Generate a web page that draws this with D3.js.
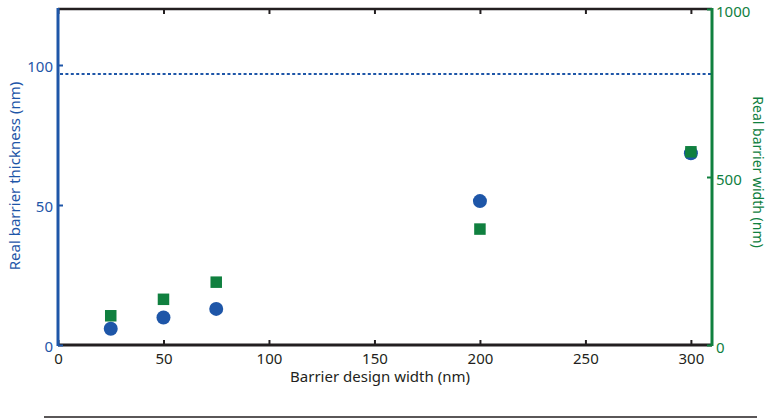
<!DOCTYPE html>
<html><head><meta charset="utf-8">
<script src="https://cdn.jsdelivr.net/npm/d3@7"></script>
<style>body{margin:0;background:#fff}svg{display:block;font-family:"Noto Sans",sans-serif}</style>
</head><body><svg id="c" width="770" height="420"></svg>
<script>
const designWidth = [25, 50, 75, 200, 300];
const thickness = [5.8, 9.8, 12.9, 51.4, 68.5];
const realWidth = [87, 136, 187, 345, 575];
const refThickness = 96.8;
const xTicks = [0, 50, 100, 150, 200, 250, 300];
const yLeftTicks = [0, 50, 100];
const yRightTicks = [0, 500, 1000];

const BLUE = "#1e56a8", GREEN = "#10803f";
const svg = d3.select("#c");
const L = 58, R = 712, T = 9, B = 345;
const x = d3.scaleLinear().domain([0, 310]).range([L, R]);
const yL = d3.scaleLinear().domain([0, 120]).range([B, T]);
const yR = d3.scaleLinear().domain([0, 1000]).range([B, T]);
const fmt = d3.format("d");

// dotted reference line
svg.append("line").attr("x1", L + 2).attr("x2", R - 1)
  .attr("y1", yL(refThickness)).attr("y2", yL(refThickness))
  .attr("stroke", BLUE).attr("stroke-width", 2).attr("stroke-dasharray", "3,2.4");

// bottom axis
const gx = svg.append("g").attr("transform", `translate(0,${B})`)
  .call(d3.axisBottom(x).tickValues(xTicks).tickFormat(fmt).tickSize(-5).tickPadding(8).tickSizeOuter(0));
gx.select(".domain").remove();
gx.append("line").attr("x1", L).attr("x2", R).attr("stroke", "#231f20").attr("stroke-width", 3);
gx.selectAll(".tick line").attr("stroke", "#231f20").attr("stroke-width", 2);
gx.selectAll(".tick text").attr("fill", "#231f20").attr("font-size", 15).attr("font-family", "Noto Sans");

// top axis
const gt = svg.append("g").attr("transform", `translate(0,${T})`)
  .call(d3.axisTop(x).tickValues(xTicks).tickSize(-5).tickFormat("").tickSizeOuter(0));
gt.select(".domain").remove();
gt.append("line").attr("x1", L).attr("x2", R).attr("stroke", "#231f20").attr("stroke-width", 2.5);
gt.selectAll(".tick line").attr("stroke", "#231f20").attr("stroke-width", 2);

// left axis
const gl = svg.append("g").attr("transform", `translate(${L},0)`)
  .call(d3.axisLeft(yL).tickValues(yLeftTicks).tickFormat(fmt).tickSize(-5).tickPadding(5).tickSizeOuter(0));
gl.select(".domain").remove();
gl.append("line").attr("y1", T - 1).attr("y2", B + 1).attr("stroke", BLUE).attr("stroke-width", 3);
gl.selectAll(".tick line").attr("stroke", BLUE).attr("stroke-width", 2);
gl.selectAll(".tick text").attr("fill", BLUE).attr("font-size", 15).attr("font-family", "Noto Sans").attr("y", 2);

// right axis
const gr = svg.append("g").attr("transform", `translate(${R},0)`)
  .call(d3.axisRight(yR).tickValues(yRightTicks).tickFormat(fmt).tickSize(-5).tickPadding(4).tickSizeOuter(0));
gr.select(".domain").remove();
gr.append("line").attr("y1", T - 1).attr("y2", B + 1).attr("stroke", GREEN).attr("stroke-width", 3);
gr.selectAll(".tick line").attr("stroke", GREEN).attr("stroke-width", 2);
gr.selectAll(".tick text").attr("fill", GREEN).attr("font-size", 15).attr("font-family", "Noto Sans").attr("y", 2.5);

// circles (left axis)
svg.append("g").selectAll("circle").data(designWidth).join("circle")
  .attr("cx", (d) => x(d)).attr("cy", (d, i) => yL(thickness[i])).attr("r", 7).attr("fill", BLUE);

// squares (right axis)
const s = 11.5;
svg.append("g").selectAll("rect").data(designWidth).join("rect")
  .attr("x", (d) => x(d) - s / 2).attr("y", (d, i) => yR(realWidth[i]) - s / 2)
  .attr("width", s).attr("height", s).attr("fill", GREEN);

// titles
svg.append("text").attr("x", 380).attr("y", 382).attr("text-anchor", "middle")
  .attr("font-size", 15).attr("fill", "#231f20").text("Barrier design width (nm)");
svg.append("text").attr("transform", "translate(20,176) rotate(-90)").attr("text-anchor", "middle")
  .attr("font-size", 15).attr("fill", BLUE).text("Real barrier thickness (nm)");
svg.append("text").attr("transform", "translate(753,172) rotate(90)").attr("text-anchor", "middle")
  .attr("font-size", 14).attr("fill", GREEN).text("Real barrier width (nm)");

// separator line
svg.append("line").attr("x1", 44).attr("x2", 757).attr("y1", 417).attr("y2", 417)
  .attr("stroke", "#231f20").attr("stroke-width", 1.5);
</script></body></html>
